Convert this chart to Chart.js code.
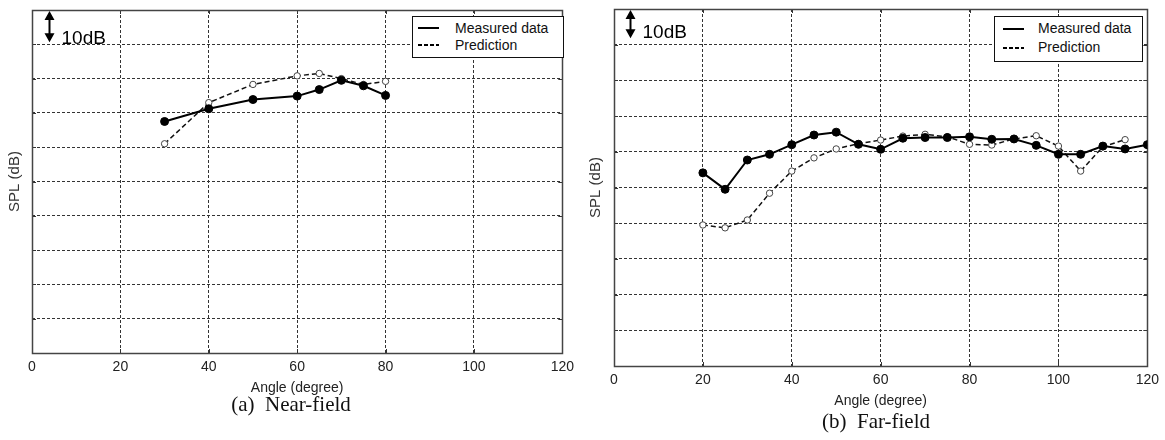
<!DOCTYPE html>
<html>
<head>
<meta charset="utf-8">
<script src="https://cdn.jsdelivr.net/npm/chart.js@4.4.1/dist/chart.umd.min.js"></script>
<style>
  html, body { margin: 0; padding: 0; background: #fff; }
  #page { position: relative; width: 1165px; height: 440px; overflow: hidden; }
  canvas { position: absolute; top: 0; }
  .legend { position: absolute; box-sizing: border-box; border: 1px solid #111; background: #fff;
            font: 14px "Liberation Sans", Arial, sans-serif; color: #111; }
  .legend .row { position: absolute; white-space: nowrap; line-height: 16px; }
  .legend .swatch { position: absolute; height: 2px; width: 21px; background: #000; }
  .legend .swatch.dash { background: repeating-linear-gradient(90deg, #000 0 4px, transparent 4px 6px); }
  .caption { position: absolute; transform: translate(-50%, -50%); white-space: nowrap;
             font: 21px "Liberation Serif", "DejaVu Serif", serif; color: #111; }
</style>
</head>
<body>
<div id="page">
  <canvas id="near" width="580" height="440" style="left:0"></canvas>
  <canvas id="far" width="580" height="440" style="left:585px"></canvas>

  <div class="legend" style="left:412px; top:16px; width:152px; height:42px;">
    <div class="swatch" style="left:5px; top:10px;"></div>
    <div class="row" style="left:42px; top:3px;">Measured data</div>
    <div class="swatch dash" style="left:5px; top:27px;"></div>
    <div class="row" style="left:42px; top:20px;">Prediction</div>
  </div>
  <div class="legend" style="left:994px; top:16px; width:149px; height:46px;">
    <div class="swatch" style="left:8px; top:11px;"></div>
    <div class="row" style="left:43px; top:3px;">Measured data</div>
    <div class="swatch dash" style="left:8px; top:30px;"></div>
    <div class="row" style="left:43px; top:22px;">Prediction</div>
  </div>

  <div class="caption" style="left:291px; top:404px;">(a)&nbsp; Near-field</div>
  <div class="caption" style="left:876px; top:421px;">(b)&nbsp; Far-field</div>
</div>
<script>
// angle (degree) and relative SPL (dB) for the near-field run
const NEAR_ANGLES = [30, 40, 50, 60, 65, 70, 75, 80];
const NEAR_MEASURED = [67.5, 71.2, 73.9, 74.9, 76.8, 79.5, 77.9, 75.1];
const NEAR_PREDICTION = [61.0, 73.0, 78.3, 80.8, 81.5, 80.0, 78.3, 79.2];

// far-field run, prediction stops at 115 degrees
const FAR_ANGLES = [20, 25, 30, 35, 40, 45, 50, 55, 60, 65, 70, 75, 80, 85, 90, 95, 100, 105, 110, 115, 120];
const FAR_MEASURED = [54.1, 49.5, 57.7, 59.3, 62.0, 64.7, 65.5, 62.1, 60.7, 63.8, 64.0,
                      64.0, 64.2, 63.5, 63.6, 61.8, 59.3, 59.3, 61.6, 60.8, 62.0];
const FAR_PRED_ANGLES = [20, 25, 30, 35, 40, 45, 50, 55, 60, 65, 70, 75, 80, 85, 90, 95, 100, 105, 110, 115];
const FAR_PREDICTION = [39.5, 38.7, 40.9, 48.4, 54.6, 58.3, 60.8, 62.3, 63.3, 64.4, 64.9,
                        64.2, 62.1, 61.9, 63.6, 64.5, 61.6, 54.6, 61.4, 63.4];

const X_TICKS = [0, 20, 40, 60, 80, 100, 120];
const FONT = '"Liberation Sans", Arial, sans-serif';

const pairs = (xs, ys) => xs.map((x, i) => ({ x, y: ys[i] }));

// box around the plot, inward tick marks and the 10 dB scale arrow
const framePlugin = {
    id: 'frame',
    beforeDatasetsDraw(chart, args, opts) {
        const { ctx, chartArea: a, scales: { x, y } } = chart;
        ctx.save();
        ctx.strokeStyle = '#333';
        ctx.lineWidth = 1;
        ctx.beginPath();
        for (const v of X_TICKS.slice(1, -1)) {
            const px = Math.round(x.getPixelForValue(v)) + 0.5;
            ctx.moveTo(px, a.bottom); ctx.lineTo(px, a.bottom - 4);
            ctx.moveTo(px, a.top); ctx.lineTo(px, a.top + 4);
        }
        for (let v = 10; v < 100; v += 10) {
            const py = Math.round(y.getPixelForValue(v)) + 0.5;
            ctx.moveTo(a.left, py); ctx.lineTo(a.left + 4, py);
            ctx.moveTo(a.right, py); ctx.lineTo(a.right - 4, py);
        }
        ctx.stroke();
        ctx.strokeStyle = '#444';
        ctx.lineWidth = 1.5;
        ctx.strokeRect(Math.round(a.left) + 0.5, Math.round(a.top) + 0.5,
                       Math.round(a.width), Math.round(a.height));

        const ax = Math.round(x.getPixelForValue(opts.arrowX)) + 0.5;
        const y0 = y.getPixelForValue(100) + 1;
        const y1 = y.getPixelForValue(opts.arrowLow);
        ctx.fillStyle = '#000';
        ctx.strokeStyle = '#000';
        ctx.lineWidth = 2;
        ctx.beginPath();
        ctx.moveTo(ax, y0 + 6); ctx.lineTo(ax, y1 - 6);
        ctx.stroke();
        ctx.beginPath();
        ctx.moveTo(ax, y0); ctx.lineTo(ax - 5, y0 + 9); ctx.lineTo(ax + 5, y0 + 9); ctx.closePath();
        ctx.moveTo(ax, y1); ctx.lineTo(ax - 5, y1 - 9); ctx.lineTo(ax + 5, y1 - 9); ctx.closePath();
        ctx.fill();
        ctx.font = '19px ' + FONT;
        ctx.textBaseline = 'alphabetic';
        ctx.textAlign = 'left';
        ctx.fillText('10dB', ax + 12, y1 + opts.textDrop);
        ctx.restore();
    }
};

function makeChart(id, measured, predicted, geo) {
    const dashGrid = {
        color: '#333',
        lineWidth: 1,
        drawTicks: false,
    };
    return new Chart(document.getElementById(id), {
        type: 'line',
        data: {
            datasets: [
                {
                    label: 'Measured data',
                    data: measured,
                    borderColor: '#000',
                    borderWidth: 2,
                    pointRadius: 4,
                    pointBackgroundColor: '#000',
                    pointBorderColor: '#000',
                    pointBorderWidth: 1,
                    tension: 0,
                    order: 0,
                },
                {
                    label: 'Prediction',
                    data: predicted,
                    borderColor: '#111',
                    borderWidth: 1.5,
                    borderDash: [5, 3],
                    pointRadius: 3.2,
                    pointBackgroundColor: '#fff',
                    pointBorderColor: '#444',
                    pointBorderWidth: 1,
                    tension: 0,
                    order: 1,
                },
            ]
        },
        options: {
            responsive: false,
            animation: false,
            devicePixelRatio: 1,
            layout: { padding: { left: 0, top: geo.top, right: geo.right, bottom: 0 } },
            plugins: {
                legend: { display: false },
                tooltip: { enabled: false },
                frame: { arrowX: geo.arrowX, arrowLow: geo.arrowLow, textDrop: geo.textDrop },
            },
            scales: {
                x: {
                    type: 'linear',
                    min: 0,
                    max: 120,
                    afterBuildTicks: (s) => { s.ticks = X_TICKS.map(v => ({ value: v })); },
                    afterFit: (s) => { s.height = geo.xHeight; },
                    ticks: { color: '#222', font: { family: FONT, size: 14 }, padding: geo.tickPad },
                    grid: dashGrid,
                    border: { display: false, dash: [3, 2] },
                    title: {
                        display: true,
                        text: 'Angle (degree)',
                        color: '#222',
                        font: { family: FONT, size: 14 },
                        padding: { top: 0, bottom: geo.xTitlePad },
                    },
                },
                y: {
                    min: 0,
                    max: 100,
                    ticks: { stepSize: 10, display: false },
                    afterFit: (s) => { s.width = geo.yWidth; },
                    grid: dashGrid,
                    border: { display: false, dash: [3, 2] },
                    title: {
                        display: true,
                        text: 'SPL (dB)',
                        color: '#333',
                        font: { family: FONT, size: 15 },
                        padding: { top: geo.yTitlePad, bottom: 0 },
                    },
                },
            },
        },
        plugins: [framePlugin],
    });
}

makeChart('near', pairs(NEAR_ANGLES, NEAR_MEASURED), pairs(NEAR_ANGLES, NEAR_PREDICTION), {
    top: 10, right: 15, yWidth: 32, xHeight: 87, tickPad: 6,
    xTitlePad: 43, yTitlePad: 6, arrowX: 3.9, arrowLow: 90.6, textDrop: 2,
});
makeChart('far', pairs(FAR_ANGLES, FAR_MEASURED), pairs(FAR_PRED_ANGLES, FAR_PREDICTION), {
    top: 9, right: 17, yWidth: 29, xHeight: 74, tickPad: 6,
    xTitlePad: 30, yTitlePad: 2, arrowX: 3.7, arrowLow: 91.8, textDrop: 0,
});
</script>
</body>
</html>
